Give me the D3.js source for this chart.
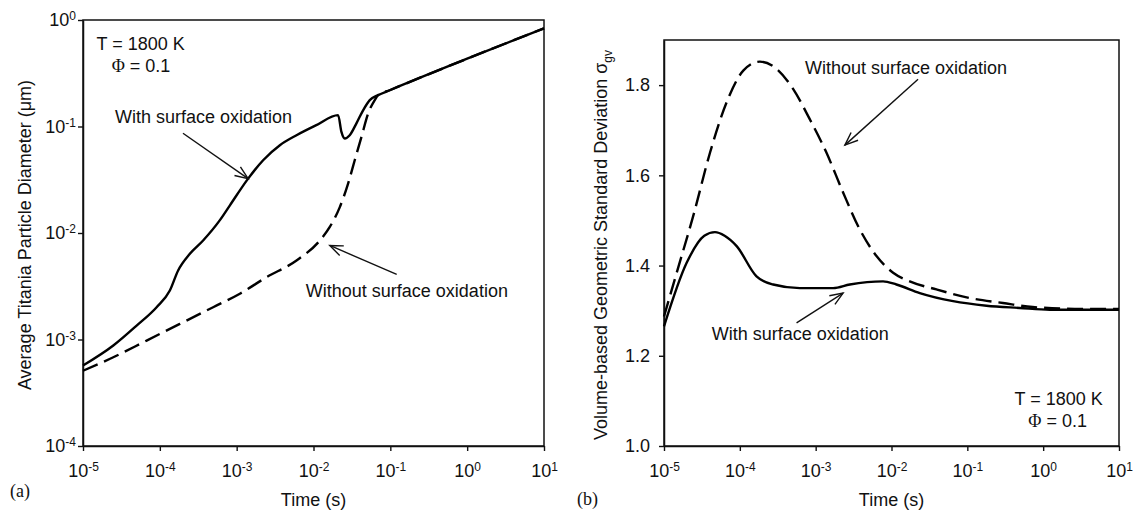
<!DOCTYPE html>
<html>
<head>
<meta charset="utf-8">
<script src="https://cdn.jsdelivr.net/npm/d3@7"></script>
<style>
    body { margin: 0; background: #fff; }
    text { font-family: "Liberation Sans", Arial, sans-serif; fill: #111; }
</style>
</head>
<body>
<div id="chart"></div>
<script>
// Tick values
const timeTicks = [1e-5, 1e-4, 1e-3, 1e-2, 1e-1, 1, 10];
const diamTicks = [1e-4, 1e-3, 1e-2, 1e-1, 1];
const sigmaTicks = [1.0, 1.2, 1.4, 1.6, 1.8];

// (a) average particle diameter (um), with surface oxidation
const diamWithTime = [1e-5, 2.48e-5, 4.99e-5, 9.08e-5, 1.35e-4, 1.73e-4, 2.46e-4, 3.66e-4, 6.05e-4, 8.17e-4,
    1.41e-3, 2.21e-3, 3.65e-3, 6.01e-3, 1.09e-2, 2.09e-2, 2.31e-2, 2.55e-2, 2.96e-2, 3.62e-2,
    4.42e-2, 5.40e-2, 6.92e-2, 9.82e-2, 1, 10];
const diamWith = [5.69e-4, 8.77e-4, 1.35e-3, 2.01e-3, 2.88e-3, 4.45e-3, 6.38e-3, 8.51e-3, 1.32e-2, 1.82e-2,
    3.24e-2, 4.82e-2, 6.67e-2, 8.28e-2, 0.103, 0.128, 8.89e-2, 7.71e-2, 8.28e-2, 0.107,
    0.142, 0.177, 0.197, 0.219, 0.433, 0.836];

// (a) without surface oxidation
const diamWithoutTime = [1e-5, 2.48e-5, 6.73e-5, 1.82e-4, 4.94e-4, 1.10e-3, 2.45e-3, 6.01e-3, 1.21e-2, 1.63e-2,
    2.20e-2, 2.82e-2, 3.44e-2, 4.21e-2, 5.13e-2, 6.27e-2, 6.92e-2, 9.82e-2, 1, 10];
const diamWithout = [5.09e-4, 6.81e-4, 9.77e-4, 1.40e-3, 2.01e-3, 2.69e-3, 3.85e-3, 5.52e-3, 8.51e-3, 1.14e-2,
    1.75e-2, 2.91e-2, 4.82e-2, 7.98e-2, 0.132, 0.177, 0.197, 0.219, 0.433, 0.836];

// (b) geometric standard deviation, with surface oxidation
const sigmaWithTime = [1e-5, 1.99e-5, 3.4e-5, 4.7e-5, 6.3e-5, 9.08e-5, 1.66e-4, 2.75e-4, 6.19e-4, 1.70e-3, 2.82e-3,
    7.74e-3, 1.16e-2, 2.36e-2, 6.49e-2, 0.179, 0.490, 1.22, 10];
const sigmaWith = [1.265, 1.406, 1.466, 1.474, 1.466, 1.443, 1.376, 1.358, 1.350, 1.350, 1.358,
    1.365, 1.358, 1.339, 1.321, 1.311, 1.306, 1.302, 1.302];

// (b) without surface oxidation
const sigmaWithoutTime = [1e-5, 1.47e-5, 2.43e-5, 4.04e-5, 6.70e-5, 1.11e-4, 1.84e-4, 3.05e-4, 5.06e-4, 8.39e-4,
    1.39e-3, 2.30e-3, 3.82e-3, 6.34e-3, 1.05e-2, 1.74e-2, 3.92e-2, 0.108, 0.295, 0.728, 3.31, 10];
const sigmaWithout = [1.287, 1.384, 1.510, 1.650, 1.762, 1.832, 1.852, 1.836, 1.791, 1.724,
    1.650, 1.562, 1.480, 1.421, 1.384, 1.365, 1.347, 1.328, 1.317, 1.308, 1.304, 1.304];

// annotations, in data coordinates
const notesA = [
    { text: 'T = 1800 K', x: 1.50e-5, y: 0.522 },
    { text: '= 0.1', phi: true, x: 2.36e-5, y: 0.327 },
    { text: 'With surface oxidation', x: 2.61e-5, y: 0.107 },
    { text: 'Without surface oxidation', x: 7.94e-3, y: 2.48e-3 }
];
const arrowsA = [
    { x1: 2.0e-4, y1: 8.65e-2, x2: 1.41e-3, y2: 3.24e-2 },
    { x1: 0.121, y1: 4.08e-3, x2: 1.63e-2, y2: 7.64e-3 }
];
const notesB = [
    { text: 'Without surface oxidation', x: 7.21e-4, y: 1.824 },
    { text: 'With surface oxidation', x: 4.25e-5, y: 1.236 },
    { text: 'T = 1800 K', x: 1.60, y: 1.091, mid: true },
    { text: '= 0.1', phi: true, x: 1.55, y: 1.042, mid: true }
];
const arrowsB = [
    { x1: 2.24e-2, y1: 1.813, x2: 2.43e-3, y2: 1.667 },
    { x1: 5.60e-4, y1: 1.273, x2: 2.30e-3, y2: 1.339 }
];

const width = 1133, height = 512;

const svg = d3.select('#chart')
    .append('svg')
    .attr('width', width)
    .attr('height', height);

const zip = (xs, ys) => xs.map((x, i) => ({ x: x, y: ys[i] }));

function drawPanel(p) {
    const x = d3.scaleLog().domain([1e-5, 10]).range([p.left, p.right]);
    const y = p.yScale.range([p.bottom, p.top]);

    const g = svg.append('g');

    // X-axis
    const xAxis = d3.axisBottom(x)
        .tickValues(timeTicks)
        .tickSize(5)
        .tickSizeOuter(0)
        .tickPadding(13);
    const gx = g.append('g')
        .attr('transform', `translate(0, ${p.bottom})`)
        .call(xAxis);
    gx.selectAll('text')
        .style('font-size', '18px')
        .each(function(d) { powLabel(d3.select(this), d); });

    // Y-axis
    const yAxis = d3.axisLeft(y)
        .tickValues(p.yTicks)
        .tickSize(5)
        .tickSizeOuter(0)
        .tickPadding(p.log ? 2 : 9);
    const gy = g.append('g')
        .attr('transform', `translate(${p.left}, 0)`)
        .call(yAxis);
    gy.selectAll('text')
        .style('font-size', '18px')
        .each(function(d) {
            if (p.log) powLabel(d3.select(this), d);
            else d3.select(this).text(d3.format('.1f')(d));
        });

    g.selectAll('.tick line').attr('stroke', '#111').attr('stroke-width', 1.4);
    g.selectAll('.domain').attr('stroke', '#111').attr('stroke-width', 1.5);

    // frame
    g.append('rect')
        .attr('x', p.left)
        .attr('y', p.top)
        .attr('width', p.right - p.left)
        .attr('height', p.bottom - p.top)
        .attr('fill', 'none')
        .attr('stroke', '#111')
        .attr('stroke-width', 1.5);

    // Lines
    const line = d3.line()
        .curve(d3.curveMonotoneX)
        .x(d => x(d.x))
        .y(d => y(d.y));

    g.append('path')
        .attr('d', line(p.dashed))
        .attr('fill', 'none')
        .attr('stroke', '#000')
        .attr('stroke-width', 2.4)
        .attr('stroke-dasharray', '16,7');

    g.append('path')
        .attr('d', line(p.solid))
        .attr('fill', 'none')
        .attr('stroke', '#000')
        .attr('stroke-width', 2.4);

    // notes
    p.notes.forEach(n => {
        const t = g.append('text')
            .attr('x', x(n.x))
            .attr('y', y(n.y))
            .attr('text-anchor', n.mid ? 'middle' : 'start')
            .style('font-size', '18px');
        if (n.phi) {
            t.append('tspan').style('font-family', '"Liberation Serif", "Times New Roman", serif').text('\u03A6');
            t.append('tspan').text(' ' + n.text);
        } else {
            t.text(n.text);
        }
    });

    p.arrows.forEach(a => {
        const x1 = x(a.x1), y1 = y(a.y1), x2 = x(a.x2), y2 = y(a.y2);
        const ang = Math.atan2(y2 - y1, x2 - x1);
        const len = 14, spread = 0.38;
        g.append('line')
            .attr('x1', x1).attr('y1', y1).attr('x2', x2).attr('y2', y2)
            .attr('stroke', '#111').attr('stroke-width', 1.4);
        g.append('path')
            .attr('d', `M${x2 - len * Math.cos(ang - spread)},${y2 - len * Math.sin(ang - spread)}` +
                `L${x2},${y2}` +
                `L${x2 - len * Math.cos(ang + spread)},${y2 - len * Math.sin(ang + spread)}`)
            .attr('fill', 'none')
            .attr('stroke', '#111')
            .attr('stroke-width', 1.4);
    });

    // axis titles
    g.append('text')
        .attr('x', (p.left + p.right) / 2)
        .attr('y', 506)
        .attr('text-anchor', 'middle')
        .style('font-size', '18px')
        .text('Time (s)');

    const yt = g.append('text')
        .attr('transform', `translate(${p.titleX}, ${(p.top + p.bottom) / 2 + p.titleShift}) rotate(-90)`)
        .attr('text-anchor', 'middle')
        .style('font-size', '18px');
    yt.append('tspan').text(p.title);
    if (p.sigma) {
        yt.append('tspan').text(' \u03C3');
        yt.append('tspan').attr('dy', 5).style('font-size', '12px').text('gv');
    }

    // panel letter
    g.append('text')
        .attr('x', p.letterX)
        .attr('y', p.letterY)
        .style('font-family', '"Liberation Serif", "Times New Roman", serif')
        .style('font-size', '18px')
        .text(p.letter);
}

function powLabel(sel, v) {
    const e = Math.round(Math.log10(v));
    sel.text(null);
    sel.append('tspan').text('10');
    sel.append('tspan').attr('dy', -6).style('font-size', '12px').text(e < 0 ? '-' + (-e) : e);
}

drawPanel({
    left: 83, right: 544, top: 20, bottom: 446,
    yScale: d3.scaleLog().domain([1e-4, 1]),
    yTicks: diamTicks,
    log: true,
    solid: zip(diamWithTime, diamWith),
    dashed: zip(diamWithoutTime, diamWithout),
    notes: notesA,
    arrows: arrowsA,
    title: 'Average Titania Particle Diameter (\u03BCm)',
    titleX: 31, titleShift: 2,
    letter: '(a)', letterX: 10, letterY: 497
});

drawPanel({
    left: 664, right: 1119, top: 40, bottom: 446,
    yScale: d3.scaleLinear().domain([1.0, 1.9]),
    yTicks: sigmaTicks,
    log: false,
    sigma: true,
    solid: zip(sigmaWithTime, sigmaWith),
    dashed: zip(sigmaWithoutTime, sigmaWithout),
    notes: notesB,
    arrows: arrowsB,
    title: 'Volume-based Geometric Standard Deviation',
    titleX: 607, titleShift: 2,
    letter: '(b)', letterX: 577, letterY: 505
});
</script>
</body>
</html>
